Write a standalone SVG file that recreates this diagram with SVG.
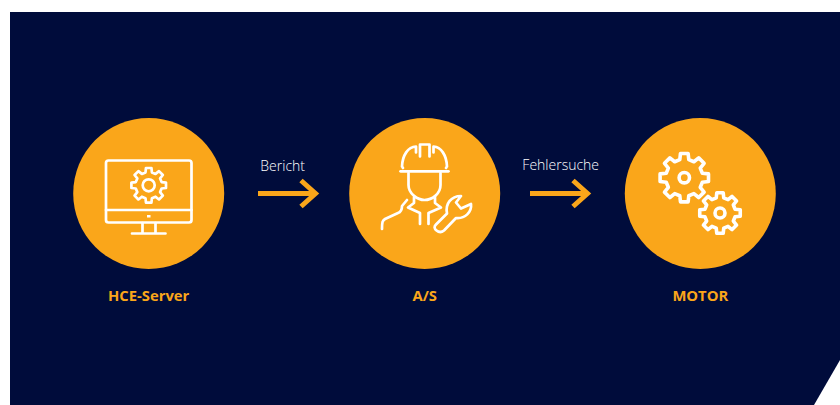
<svg xmlns="http://www.w3.org/2000/svg" xmlns:xlink="http://www.w3.org/1999/xlink" width="840" height="405" viewBox="0 0 840 405">
<style>
text{font-family:"Open Sans","Noto Sans","Liberation Sans",sans-serif}
.disc{fill:#faa61a}
.ic{fill:none;stroke:#fff;stroke-width:2.7;stroke-linejoin:round;stroke-linecap:round}
.thick{stroke-width:3.6}
.name{font-size:14.800px;font-weight:700;fill:#faa61a;text-anchor:middle}
.edge{font-size:14px;font-weight:300;fill:#fff;text-anchor:middle}
.arrow{fill:none;stroke:#faa61a;stroke-width:5}
</style>
<defs>
<path id="gear" vector-effect="non-scaling-stroke" d="M73.7-18.4L98.8-15.6L98.8 15.6L73.7 18.4L65.1 39.1L80.9 58.8L58.8 80.9L39.1 65.1L18.4 73.7L15.6 98.8L-15.6 98.8L-18.4 73.7L-39.1 65.1L-58.8 80.9L-80.9 58.8L-65.1 39.1L-73.7 18.4L-98.8 15.6L-98.8-15.6L-73.7-18.4L-65.1-39.1L-80.9-58.8L-58.8-80.9L-39.1-65.1L-18.4-73.7L-15.6-98.8L15.6-98.8L18.4-73.7L39.1-65.1L58.8-80.9L80.9-58.8L65.1-39.1Z"/>
</defs>
<path d="M10 12H840V360L814 405H10Z" fill="#000c3b"/>
<g id="connectors">
<g id="arrow-report"><path class="arrow" d="M258 193.5H314"/><path class="arrow" d="M301 180.500L315.500 193.500L301 206.500"/></g>
<g id="arrow-debug"><path class="arrow" d="M530 193.500H586"/><path class="arrow" d="M573 180.500L587.500 193.500L573 206.500"/></g>
<text class="edge" x="282.700" y="171">Bericht</text>
<text class="edge" x="560.700" y="170">Fehlersuche</text>
</g>
<g id="node-hce">
<circle class="disc" cx="148.700" cy="193.500" r="75.500"/>
<rect class="ic" x="106" y="160.500" width="85.500" height="62" rx="2.500"/>
<path class="ic" d="M106 210H191.500M142.500 223V233.500M155.500 223V233.500M132 233.500H165.500"/>
<rect x="147" y="215" width="3.500" height="2.500" fill="#fff"/>
<use class="ic" href="#gear" transform="translate(148.700 185.300) scale(.175)"/>
<circle class="ic" cx="148.700" cy="185.300" r="6"/>
<text class="name" x="148.700" y="301">HCE-Server</text>
</g>
<g id="node-as">
<circle class="disc" cx="424.700" cy="193.500" r="75.500"/>
<path class="ic" d="M400.500 171.300H448.500"/>
<path class="ic" d="M420 156.500V144.500H429.500V156.500"/>
<path class="ic" d="M402 166.500C402.500 155 408 147 416 146.500V152.500M447 166.500C446.500 155 441 147 433.500 146.500V152.500M402 166.500L403 168M447 166.500L446 168"/>
<path class="ic" d="M408.500 173V185C408.500 194 418 200 424.500 200C432 200 440.500 194 440.500 185V173"/>
<path class="ic" d="M414 197.500V203L408 207.500L420 213V224M435 197.500V203L441 207.500L428.500 213V224"/>
<path class="ic" d="M407 200L402 206C402 210 401 212 398 213L385 219C382.500 220.500 382 222 382 229"/>
<path class="ic" d="M436 224.500L447 213.500C445 204 451 196 461 196L456 202.500L461 208.500L471 204C472 212 465 219 456 218L444 230.500C441.500 232.500 439 232.500 436.500 230.500C434 228.500 434 226.500 436 224.500Z"/>
<text class="name" x="424.700" y="301">A/S</text>
</g>
<g id="node-motor">
<circle class="disc" cx="700.300" cy="193.500" r="75.500"/>
<use class="ic thick" href="#gear" transform="translate(684.300 177.700) scale(.245)"/>
<circle class="ic thick" cx="684.300" cy="177.700" r="5.200"/>
<use class="ic thick" href="#gear" transform="translate(720 213) scale(.205)"/>
<circle class="ic thick" cx="720" cy="213" r="5"/>
<text class="name" x="700.300" y="301">MOTOR</text>
</g>
</svg>
